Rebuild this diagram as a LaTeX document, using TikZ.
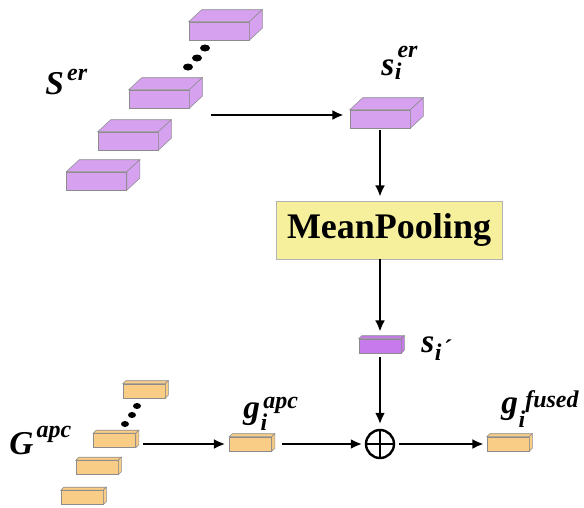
\documentclass[tikz,border=0pt]{standalone}
\usepackage{fontspec}
\setmainfont{Liberation Serif}
\usetikzlibrary{positioning,arrows.meta,calc}

\definecolor{lilac}{RGB}{214,162,240}
\definecolor{deeplilac}{RGB}{199,122,236}
\definecolor{apricot}{RGB}{249,205,134}
\definecolor{paleyellow}{RGB}{246,240,157}

% top and right faces of a slab whose front face is node #1
\newcommand{\slabfaces}[3]{%
  \draw[draw=black!45,fill=#3] (#1.north west) -- ++(#2) -- ($(#1.north east)+(#2)$) -- (#1.north east) -- cycle;
  \draw[draw=black!45,fill=#3] (#1.north east) -- ++(#2) -- ($(#1.south east)+(#2)$) -- (#1.south east) -- cycle;}
% symbol with subscript, superscript and their shifts
\newcommand{\vsym}[5]{#1\rlap{\kern0.5pt\raisebox{-#4}{\fontsize{18}{18}\selectfont #2}}\kern2.5pt\raisebox{#5}{\fontsize{18}{18}\selectfont #3}}

\begin{document}
\begin{tikzpicture}[x=0.75pt,y=-0.75pt,>=Latex,
  flow/.style={-{Latex[length=8.5pt,width=7.5pt]},line width=2.1pt},
  bigslab/.style={draw=black!45,fill=lilac,minimum width=45pt,minimum height=13.5pt,inner sep=0},
  thinslab/.style={draw=black!45,minimum width=31.5pt,minimum height=10.5pt,inner sep=0},
  sym/.style={anchor=base west,inner sep=0,font=\fontsize{25}{25}\selectfont\bfseries\itshape}]
  \useasboundingbox (0,0) rectangle (584,507);

  % stack of S^er
  \node[bigslab] (er4) at (96.5,181) {};  \slabfaces{er4}{13,-12}{lilac}
  \node[bigslab] (er3) at (128,141) {};   \slabfaces{er3}{13,-12}{lilac}
  \node[bigslab] (er2) at (159,99) {};    \slabfaces{er2}{13,-12}{lilac}
  \node[bigslab] (er1) at (219,31) {};    \slabfaces{er1}{13,-12}{lilac}
  \fill (188,67) ellipse (5 and 3.5); \fill (197,58) ellipse (5 and 3.5); \fill (205,48) ellipse (5 and 3.5);
  \node[sym] (Ser) at (45,94) {\vsym{S}{}{er}{0pt}{10.5pt}};

  % selected s_i^er and pooling
  \node[bigslab] (si) at (380,119) {};    \slabfaces{si}{13,-12}{lilac}
  \node[sym] (silab) at (381,75) {\vsym{s}{i}{er}{3pt}{13.5pt}};
  \node[draw=black!30,fill=paleyellow,minimum width=169.5pt,minimum height=43.5pt,
        font=\fontsize{27}{27}\selectfont\bfseries] (pool) at (389,230) {MeanPooling};
  \node[thinslab,fill=deeplilac] (sip) at (380,346) {};  \slabfaces{sip}{3,-3}{deeplilac}
  \node[sym] (siplab) at (421,352) {\vsym{s}{i}{\kern4pt´}{6pt}{-3pt}};

  % stack of G^apc
  \node[thinslab,fill=apricot] (ap4) at (82,497.5) {};  \slabfaces{ap4}{3,-3}{apricot}
  \node[thinslab,fill=apricot] (ap3) at (97,467.5) {};  \slabfaces{ap3}{3,-3}{apricot}
  \node[thinslab,fill=apricot] (ap2) at (114.5,440.5) {};  \slabfaces{ap2}{3,-3}{apricot}
  \node[thinslab,fill=apricot] (ap1) at (144,391) {};  \slabfaces{ap1}{3,-3}{apricot}
  \fill (125,424) ellipse (4 and 3); \fill (132,415) ellipse (4 and 3); \fill (137,406) ellipse (4 and 3);
  \node[sym] (Gapc) at (9,454) {\vsym{G}{}{apc}{0pt}{12.75pt}};

  % g_i^apc, fusion and result
  \node[thinslab,fill=apricot] (gi) at (250.5,444) {};  \slabfaces{gi}{3,-3}{apricot}
  \node[sym] (gilab) at (243,418) {\vsym{g}{i}{apc}{9pt}{7.5pt}};
  \node[circle,draw,line width=1.8pt,minimum size=21pt,inner sep=0] (sum) at (380,444) {};
  \draw[line width=1.8pt] (sum.north) -- (sum.south) (sum.west) -- (sum.east);
  \node[thinslab,fill=apricot] (gf) at (508,444) {};  \slabfaces{gf}{3,-3}{apricot}
  \node[sym] (gflab) at (501,413) {\vsym{g}{i}{\kern3pt fused}{10.5pt}{4.5pt}};

  % arrows
  \coordinate (erout) at (211,115);
  \coordinate (apout) at (143,444);
  \draw[flow,shorten >=4.5pt] (erout) -- (erout -| si.west);
  \draw[flow,shorten <=1.5pt,shorten >=3pt] (si.south) -- (si.south |- pool.north);
  \draw[flow,shorten >=5.25pt] (si.south |- pool.south) -- (sip.north);
  \draw[flow,shorten <=3pt,shorten >=3.5pt] (sip.south) -- (sum.north);
  \draw[flow,shorten >=3pt] (apout) -- (gi.west);
  \draw[flow,shorten <=7.5pt,shorten >=2pt] (gi.east) -- (sum.west);
  \draw[flow,shorten <=3pt,shorten >=2.25pt] (sum.east) -- (gf.west);
\end{tikzpicture}
\end{document}
